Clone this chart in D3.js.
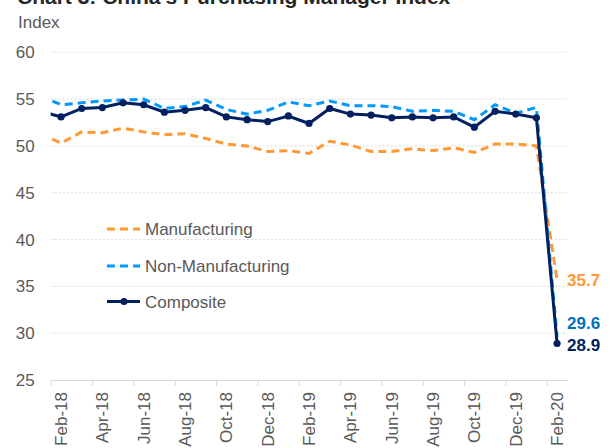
<!DOCTYPE html>
<html>
<head>
<meta charset="utf-8">
<script src="https://cdn.jsdelivr.net/npm/d3@7"></script>
<style>
  html, body { margin: 0; padding: 0; background: #fff; }
  svg { display: block; font-family: "Liberation Sans", Arial, sans-serif; }
</style>
</head>
<body>
<svg id="chart" width="610" height="448"></svg>
<script>
const months = ["Jan-18","Feb-18","Mar-18","Apr-18","May-18","Jun-18","Jul-18","Aug-18","Sep-18","Oct-18","Nov-18","Dec-18",
                "Jan-19","Feb-19","Mar-19","Apr-19","May-19","Jun-19","Jul-19","Aug-19","Sep-19","Oct-19","Nov-19","Dec-19",
                "Jan-20","Feb-20"];
const manufacturing = [51.3,50.3,51.5,51.4,51.9,51.5,51.2,51.3,50.8,50.2,50.0,49.4,
                       49.5,49.2,50.5,50.1,49.4,49.4,49.7,49.5,49.8,49.3,50.2,50.2,
                       50.0,35.7];
const nonManufacturing = [55.3,54.4,54.6,54.8,54.9,55.0,54.0,54.2,54.9,53.9,53.4,53.8,
                          54.7,54.3,54.8,54.3,54.3,54.2,53.7,53.8,53.7,52.8,54.4,53.5,
                          54.1,29.6];
const composite = [53.7,53.1,54.0,54.1,54.6,54.4,53.6,53.8,54.1,53.1,52.8,52.6,
                   53.2,52.4,54.0,53.4,53.3,53.0,53.1,53.0,53.1,52.0,53.7,53.4,
                   53.0,28.9];
const yTicks = [25,30,35,40,45,50,55,60];
const labelledMonths = ["Feb-18","Apr-18","Jun-18","Aug-18","Oct-18","Dec-18","Feb-19","Apr-19","Jun-19","Aug-19","Oct-19","Dec-19","Feb-20"];
const seriesNames = ["Manufacturing","Non-Manufacturing","Composite"];
const titleText = "Chart 3: China's Purchasing Manager Index";

const colors = { mfg: "#FF9933", non: "#0099FF", comp: "#002060", nonLabel: "#0070C0" };
const svg = d3.select("#chart");
const L = 50.7, R = 567.4, T = 52.3, B = 380;

// x: month index -> pixel; Feb-18 (index 1) is the first visible category
const x = d3.scaleLinear().domain([0.5, months.length - 0.5]).range([L, R]);
const y = d3.scaleLinear().domain([25, 60]).range([B, T]);

// Title (cut off at top)
svg.append("text").attr("x", 17).attr("y", 4)
  .attr("font-size", 21).attr("font-weight", "bold").attr("fill", "#262626")
  .text(titleText);

svg.append("text").attr("x", 18).attr("y", 28)
  .attr("font-size", 17).attr("fill", "#595959").text("Index");

// gridlines
svg.append("g").selectAll("line").data(yTicks.filter(t => t > 25)).join("line")
  .attr("x1", L).attr("x2", R).attr("y1", d => y(d)).attr("y2", d => y(d))
  .attr("stroke", "#d9d9d9").attr("stroke-width", 1).attr("stroke-dasharray", "2,2");

// y axis labels
const yAxis = svg.append("g").attr("transform", `translate(${L},0)`)
  .call(d3.axisLeft(y).tickValues(yTicks).tickSize(0).tickPadding(16));
yAxis.select(".domain").remove();
yAxis.selectAll("text").attr("font-size", 17).attr("fill", "#595959")
  .attr("font-family", "Liberation Sans, Arial, sans-serif");

// x axis: ticks at boundaries every 2 months
const boundaries = labelledMonths.map(m => months.indexOf(m) - 0.5);
const xAxis = svg.append("g").attr("transform", `translate(0,${B})`)
  .call(d3.axisBottom(x).tickValues(boundaries).tickSizeInner(6).tickSizeOuter(0).tickFormat(""));
xAxis.select(".domain").attr("stroke", "#d9d9d9").attr("stroke-width", 1.2);
xAxis.selectAll(".tick line").attr("stroke", "#d9d9d9");

// x labels
svg.append("g").selectAll("text").data(labelledMonths).join("text")
  .attr("transform", d => `translate(${x(months.indexOf(d)) + 6},${B + 12}) rotate(-90)`)
  .attr("text-anchor", "end").attr("font-size", 17).attr("fill", "#595959")
  .text(d => d);

// clip
svg.append("clipPath").attr("id", "plot").append("rect")
  .attr("x", L).attr("y", 0).attr("width", R - L).attr("height", 448);

const line = d3.line().x((d, i) => x(i)).y(d => y(d));
const plot = svg.append("g").attr("clip-path", "url(#plot)");

plot.append("path").datum(manufacturing).attr("d", line)
  .attr("fill", "none").attr("stroke", colors.mfg).attr("stroke-width", 3)
  .attr("stroke-dasharray", "8,5");
plot.append("path").datum(nonManufacturing).attr("d", line)
  .attr("fill", "none").attr("stroke", colors.non).attr("stroke-width", 3)
  .attr("stroke-dasharray", "8,5");
plot.append("path").datum(composite).attr("d", line)
  .attr("fill", "none").attr("stroke", colors.comp).attr("stroke-width", 3);
plot.append("g").selectAll("circle").data(composite).join("circle")
  .attr("cx", (d, i) => x(i)).attr("cy", d => y(d)).attr("r", 3.6)
  .attr("fill", colors.comp);

// end labels (non-manufacturing nudged up to avoid overlap, as in the source)
const last = months.length - 1;
const endLabels = [
  { v: manufacturing[last], c: colors.mfg, dy: 0 },
  { v: nonManufacturing[last], c: colors.nonLabel, dy: -14 },
  { v: composite[last], c: colors.comp, dy: 1.5 }
];
svg.append("g").selectAll("text").data(endLabels).join("text")
  .attr("x", x(last) + 10).attr("y", d => y(d.v) + 6 + d.dy)
  .attr("font-size", 17).attr("font-weight", "bold").attr("fill", d => d.c)
  .text(d => d.v.toFixed(1));

// legend
const legendRows = [
  { name: seriesNames[0], c: colors.mfg, dash: "8,5", marker: false, cy: 229 },
  { name: seriesNames[1], c: colors.non, dash: "8,5", marker: false, cy: 266 },
  { name: seriesNames[2], c: colors.comp, dash: null, marker: true, cy: 301.5 }
];
const lg = svg.append("g");
legendRows.forEach(r => {
  lg.append("line").attr("x1", 107).attr("x2", 140).attr("y1", r.cy).attr("y2", r.cy)
    .attr("stroke", r.c).attr("stroke-width", 3)
    .attr("stroke-dasharray", r.dash);
  if (r.marker) lg.append("circle").attr("cx", 124).attr("cy", r.cy).attr("r", 3.6).attr("fill", r.c);
  lg.append("text").attr("x", 145).attr("y", r.cy + 6)
    .attr("font-size", 17).attr("fill", "#595959").text(r.name);
});
</script>
</body>
</html>
